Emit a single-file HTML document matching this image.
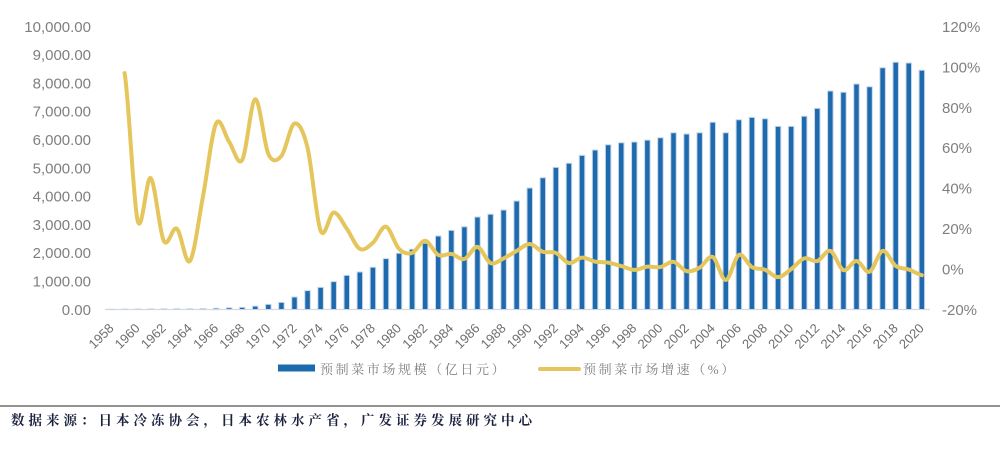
<!DOCTYPE html>
<html><head><meta charset="utf-8"><style>
html,body{margin:0;padding:0;background:#fff;}
svg{display:block;}
.yl{font-family:"Liberation Sans",Arial,sans-serif;font-size:15px;fill:#7f7f7f;}
.xl{font-family:"Liberation Sans",Arial,sans-serif;font-size:13px;fill:#6e6e6e;}
.lg{font-family:"Liberation Serif","Noto Serif CJK SC",serif;font-size:13px;fill:#7f7f7f;letter-spacing:2.6px;}
.ft{font-family:"Liberation Serif","Noto Serif CJK SC",serif;font-size:13.5px;font-weight:bold;fill:#1c2340;letter-spacing:4px;}
</style></head><body>
<svg width="1000" height="451" viewBox="0 0 1000 451" xmlns="http://www.w3.org/2000/svg">
<rect width="1000" height="451" fill="#fff"/>
<g class="yl" text-anchor="end">
<text x="91" y="314.8">0.00</text>
<text x="91" y="286.5">1,000.00</text>
<text x="91" y="258.2">2,000.00</text>
<text x="91" y="229.9">3,000.00</text>
<text x="91" y="201.6">4,000.00</text>
<text x="91" y="173.3">5,000.00</text>
<text x="91" y="145">6,000.00</text>
<text x="91" y="116.7">7,000.00</text>
<text x="91" y="88.4">8,000.00</text>
<text x="91" y="60.1">9,000.00</text>
<text x="91" y="31.8">10,000.00</text>
</g>
<g class="yl">
<text x="942" y="314.8">-20%</text>
<text x="942" y="274.4">0%</text>
<text x="942" y="234">20%</text>
<text x="942" y="193.6">40%</text>
<text x="942" y="153.2">60%</text>
<text x="942" y="112.8">80%</text>
<text x="942" y="72.4">100%</text>
<text x="942" y="32">120%</text>
</g>
<line x1="105" y1="309.5" x2="930" y2="309.5" stroke="#d9d9d9" stroke-width="1.2"/>
<g transform="translate(111.5,309.5) scale(13.07,-0.0283)" fill="#1e6aae" stroke="#c6d6ea" stroke-width="1" >
<rect vector-effect="non-scaling-stroke" x="-0.21" y="0" width="0.42" height="10"/>
<rect vector-effect="non-scaling-stroke" x="0.79" y="0" width="0.42" height="15"/>
<rect vector-effect="non-scaling-stroke" x="1.79" y="0" width="0.42" height="18"/>
<rect vector-effect="non-scaling-stroke" x="2.79" y="0" width="0.42" height="22"/>
<rect vector-effect="non-scaling-stroke" x="3.79" y="0" width="0.42" height="25"/>
<rect vector-effect="non-scaling-stroke" x="4.79" y="0" width="0.42" height="28"/>
<rect vector-effect="non-scaling-stroke" x="5.79" y="0" width="0.42" height="30"/>
<rect vector-effect="non-scaling-stroke" x="6.79" y="0" width="0.42" height="35"/>
<rect vector-effect="non-scaling-stroke" x="7.79" y="0" width="0.42" height="45"/>
<rect vector-effect="non-scaling-stroke" x="8.79" y="0" width="0.42" height="60"/>
<rect vector-effect="non-scaling-stroke" x="9.79" y="0" width="0.42" height="75"/>
<rect vector-effect="non-scaling-stroke" x="10.79" y="0" width="0.42" height="120"/>
<rect vector-effect="non-scaling-stroke" x="11.79" y="0" width="0.42" height="180"/>
<rect vector-effect="non-scaling-stroke" x="12.79" y="0" width="0.42" height="250"/>
<rect vector-effect="non-scaling-stroke" x="13.79" y="0" width="0.42" height="440"/>
<rect vector-effect="non-scaling-stroke" x="14.79" y="0" width="0.42" height="665"/>
<rect vector-effect="non-scaling-stroke" x="15.79" y="0" width="0.42" height="780"/>
<rect vector-effect="non-scaling-stroke" x="16.79" y="0" width="0.42" height="983"/>
<rect vector-effect="non-scaling-stroke" x="17.79" y="0" width="0.42" height="1208"/>
<rect vector-effect="non-scaling-stroke" x="18.79" y="0" width="0.42" height="1325"/>
<rect vector-effect="non-scaling-stroke" x="19.79" y="0" width="0.42" height="1491"/>
<rect vector-effect="non-scaling-stroke" x="20.79" y="0" width="0.42" height="1796"/>
<rect vector-effect="non-scaling-stroke" x="21.79" y="0" width="0.42" height="1986"/>
<rect vector-effect="non-scaling-stroke" x="22.79" y="0" width="0.42" height="2127"/>
<rect vector-effect="non-scaling-stroke" x="23.79" y="0" width="0.42" height="2339"/>
<rect vector-effect="non-scaling-stroke" x="24.79" y="0" width="0.42" height="2597"/>
<rect vector-effect="non-scaling-stroke" x="25.79" y="0" width="0.42" height="2798"/>
<rect vector-effect="non-scaling-stroke" x="26.79" y="0" width="0.42" height="2926"/>
<rect vector-effect="non-scaling-stroke" x="27.79" y="0" width="0.42" height="3269"/>
<rect vector-effect="non-scaling-stroke" x="28.79" y="0" width="0.42" height="3364"/>
<rect vector-effect="non-scaling-stroke" x="29.79" y="0" width="0.42" height="3516"/>
<rect vector-effect="non-scaling-stroke" x="30.79" y="0" width="0.42" height="3834"/>
<rect vector-effect="non-scaling-stroke" x="31.79" y="0" width="0.42" height="4293"/>
<rect vector-effect="non-scaling-stroke" x="32.79" y="0" width="0.42" height="4657"/>
<rect vector-effect="non-scaling-stroke" x="33.79" y="0" width="0.42" height="5024"/>
<rect vector-effect="non-scaling-stroke" x="34.79" y="0" width="0.42" height="5166"/>
<rect vector-effect="non-scaling-stroke" x="35.79" y="0" width="0.42" height="5448"/>
<rect vector-effect="non-scaling-stroke" x="36.79" y="0" width="0.42" height="5636"/>
<rect vector-effect="non-scaling-stroke" x="37.79" y="0" width="0.42" height="5823"/>
<rect vector-effect="non-scaling-stroke" x="38.79" y="0" width="0.42" height="5894"/>
<rect vector-effect="non-scaling-stroke" x="39.79" y="0" width="0.42" height="5919"/>
<rect vector-effect="non-scaling-stroke" x="40.79" y="0" width="0.42" height="5985"/>
<rect vector-effect="non-scaling-stroke" x="41.79" y="0" width="0.42" height="6071"/>
<rect vector-effect="non-scaling-stroke" x="42.79" y="0" width="0.42" height="6247"/>
<rect vector-effect="non-scaling-stroke" x="43.79" y="0" width="0.42" height="6201"/>
<rect vector-effect="non-scaling-stroke" x="44.79" y="0" width="0.42" height="6247"/>
<rect vector-effect="non-scaling-stroke" x="45.79" y="0" width="0.42" height="6615"/>
<rect vector-effect="non-scaling-stroke" x="46.79" y="0" width="0.42" height="6247"/>
<rect vector-effect="non-scaling-stroke" x="47.79" y="0" width="0.42" height="6707"/>
<rect vector-effect="non-scaling-stroke" x="48.79" y="0" width="0.42" height="6791"/>
<rect vector-effect="non-scaling-stroke" x="49.79" y="0" width="0.42" height="6742"/>
<rect vector-effect="non-scaling-stroke" x="50.79" y="0" width="0.42" height="6473"/>
<rect vector-effect="non-scaling-stroke" x="51.79" y="0" width="0.42" height="6473"/>
<rect vector-effect="non-scaling-stroke" x="52.79" y="0" width="0.42" height="6827"/>
<rect vector-effect="non-scaling-stroke" x="53.79" y="0" width="0.42" height="7109"/>
<rect vector-effect="non-scaling-stroke" x="54.79" y="0" width="0.42" height="7721"/>
<rect vector-effect="non-scaling-stroke" x="55.79" y="0" width="0.42" height="7675"/>
<rect vector-effect="non-scaling-stroke" x="56.79" y="0" width="0.42" height="7968"/>
<rect vector-effect="non-scaling-stroke" x="57.79" y="0" width="0.42" height="7873"/>
<rect vector-effect="non-scaling-stroke" x="58.79" y="0" width="0.42" height="8544"/>
<rect vector-effect="non-scaling-stroke" x="59.79" y="0" width="0.42" height="8735"/>
<rect vector-effect="non-scaling-stroke" x="60.79" y="0" width="0.42" height="8710"/>
<rect vector-effect="non-scaling-stroke" x="61.79" y="0" width="0.42" height="8452"/>
</g>
<g transform="translate(111.5,269.1) scale(13.07,-2.021)">
<path vector-effect="non-scaling-stroke" fill="none" stroke="#e5c65c" stroke-width="4" stroke-linecap="round" stroke-linejoin="round" d="M1,97 C1.333,84.83 1.667,32.67 2,24 C2.333,15.33 2.667,46.67 3,45 C3.333,43.33 3.667,18.17 4,14 C4.333,9.83 4.667,21.67 5,20 C5.333,18.33 5.667,1.33 6,4 C6.333,6.67 6.667,24.67 7,36 C7.333,47.33 7.667,67.5 8,72 C8.333,76.5 8.667,66 9,63 C9.333,60 9.667,50.5 10,54 C10.333,57.5 10.667,83.5 11,84 C11.333,84.5 11.667,61.67 12,57 C12.333,52.33 12.667,53.5 13,56 C13.333,58.5 13.667,71.33 14,72 C14.333,72.67 14.667,68.83 15,60 C15.333,51.17 15.667,24.33 16,19 C16.333,13.67 16.667,27.83 17,28 C17.333,28.17 17.667,23 18,20 C18.333,17 18.667,11.17 19,10 C19.333,8.83 19.667,11.17 20,13 C20.333,14.83 20.667,21.5 21,21 C21.333,20.5 21.667,12.17 22,10 C22.333,7.83 22.667,7.33 23,8 C23.333,8.67 23.667,14.17 24,14 C24.333,13.83 24.667,8.08 25,7 C25.333,5.92 25.667,7.83 26,7.5 C26.333,7.17 26.667,4.42 27,5 C27.333,5.58 27.667,11.33 28,11 C28.333,10.67 28.667,3.95 29,3 C29.333,2.05 29.667,4.3 30,5.3 C30.333,6.3 30.667,7.82 31,9 C31.333,10.18 31.667,12.47 32,12.4 C32.333,12.33 32.667,9.33 33,8.6 C33.333,7.87 33.667,8.93 34,8 C34.333,7.07 34.667,3.38 35,3 C35.333,2.62 35.667,5.58 36,5.7 C36.333,5.82 36.667,4.12 37,3.7 C37.333,3.28 37.667,3.57 38,3.2 C38.333,2.83 38.667,2.1 39,1.5 C39.333,0.9 39.667,-0.35 40,-0.4 C40.333,-0.45 40.667,0.97 41,1.2 C41.333,1.43 41.667,0.6 42,1 C42.333,1.4 42.667,3.93 43,3.6 C43.333,3.27 43.667,-0.52 44,-1 C44.333,-1.48 44.667,-0.47 45,0.7 C45.333,1.87 45.667,7.02 46,6 C46.333,4.98 46.667,-5.57 47,-5.4 C47.333,-5.23 47.667,5.93 48,7 C48.333,8.07 48.667,2.22 49,1 C49.333,-0.22 49.667,0.53 50,-0.3 C50.333,-1.13 50.667,-4.05 51,-4 C51.333,-3.95 51.667,-1.55 52,0 C52.333,1.55 52.667,4.63 53,5.3 C53.333,5.97 53.667,3.38 54,4 C54.333,4.62 54.667,9.75 55,9 C55.333,8.25 55.667,0.33 56,-0.5 C56.333,-1.33 56.667,4.13 57,4 C57.333,3.87 57.667,-2.13 58,-1.3 C58.333,-0.47 58.667,8.52 59,9 C59.333,9.48 59.667,3.13 60,1.6 C60.333,0.07 60.667,0.57 61,-0.2 C61.333,-0.97 61.667,-2.53 62,-3"/>
</g>
<g class="xl" text-anchor="end">
<text transform="translate(114.5,329) rotate(-45)">1958</text>
<text transform="translate(140.6,329) rotate(-45)">1960</text>
<text transform="translate(166.8,329) rotate(-45)">1962</text>
<text transform="translate(192.9,329) rotate(-45)">1964</text>
<text transform="translate(219.1,329) rotate(-45)">1966</text>
<text transform="translate(245.2,329) rotate(-45)">1968</text>
<text transform="translate(271.3,329) rotate(-45)">1970</text>
<text transform="translate(297.5,329) rotate(-45)">1972</text>
<text transform="translate(323.6,329) rotate(-45)">1974</text>
<text transform="translate(349.8,329) rotate(-45)">1976</text>
<text transform="translate(375.9,329) rotate(-45)">1978</text>
<text transform="translate(402,329) rotate(-45)">1980</text>
<text transform="translate(428.2,329) rotate(-45)">1982</text>
<text transform="translate(454.3,329) rotate(-45)">1984</text>
<text transform="translate(480.5,329) rotate(-45)">1986</text>
<text transform="translate(506.6,329) rotate(-45)">1988</text>
<text transform="translate(532.7,329) rotate(-45)">1990</text>
<text transform="translate(558.9,329) rotate(-45)">1992</text>
<text transform="translate(585,329) rotate(-45)">1994</text>
<text transform="translate(611.2,329) rotate(-45)">1996</text>
<text transform="translate(637.3,329) rotate(-45)">1998</text>
<text transform="translate(663.4,329) rotate(-45)">2000</text>
<text transform="translate(689.6,329) rotate(-45)">2002</text>
<text transform="translate(715.7,329) rotate(-45)">2004</text>
<text transform="translate(741.9,329) rotate(-45)">2006</text>
<text transform="translate(768,329) rotate(-45)">2008</text>
<text transform="translate(794.1,329) rotate(-45)">2010</text>
<text transform="translate(820.3,329) rotate(-45)">2012</text>
<text transform="translate(846.4,329) rotate(-45)">2014</text>
<text transform="translate(872.6,329) rotate(-45)">2016</text>
<text transform="translate(898.7,329) rotate(-45)">2018</text>
<text transform="translate(924.8,329) rotate(-45)">2020</text>
</g>
<rect x="278" y="364.5" width="37" height="7" fill="#1e6aae"/>
<text class="lg" x="320" y="374">预制菜市场规模（亿日元）</text>
<line x1="540" y1="369" x2="579" y2="369" stroke="#e5c65c" stroke-width="4" stroke-linecap="round"/>
<text class="lg" x="583" y="374">预制菜市场增速（%）</text>
<line x1="0" y1="406" x2="1000" y2="406" stroke="#6e6e6e" stroke-width="1.6"/>
<text class="ft" x="11" y="425">数据来源：日本冷冻协会，日本农林水产省，广发证券发展研究中心</text>
</svg>
</body></html>
